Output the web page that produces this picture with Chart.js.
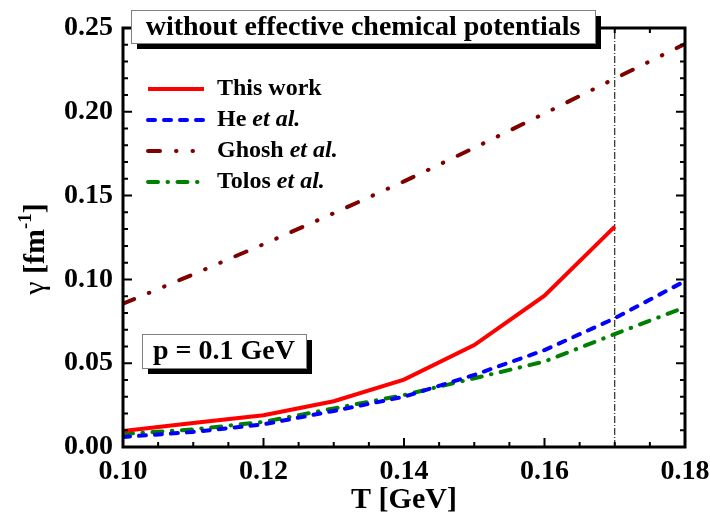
<!DOCTYPE html>
<html>
<head>
<meta charset="utf-8">
<script src="https://cdn.jsdelivr.net/npm/chart.js@4.4.0/dist/chart.umd.min.js"></script>
<style>
  body { margin: 0; background: #fff; }
  #wrap { width: 710px; height: 515px; }
</style>
</head>
<body>
<div id="wrap"><canvas id="gamma" width="710" height="515"></canvas></div>
<script>
// temperature grid [GeV] and damping rates gamma [fm^-1] at p = 0.1 GeV
const temps = [0.10, 0.11, 0.12, 0.13, 0.14, 0.15, 0.16, 0.17, 0.18];
const thisWork = [0.0096, 0.0143, 0.0190, 0.0273, 0.0402, 0.0608, 0.0903, 0.1315];
const heEtAl = [0.0060, 0.0090, 0.0135, 0.0215, 0.0300, 0.0430, 0.0578, 0.0768, 0.0990];
const ghoshEtAl = [0.0855, 0.1030, 0.1210, 0.1395, 0.1585, 0.1785, 0.1990, 0.2198, 0.2405];
const tolosEtAl = [0.0078, 0.0105, 0.0150, 0.0230, 0.0310, 0.0410, 0.0510, 0.0674, 0.0834];
const seriesLabels = ["This work", "He et al.", "Ghosh et al.", "Tolos et al."];
const tcMarker = 0.17; // vertical dash-dot line

const xMin = 0.10, xMax = 0.18, yMin = 0, yMax = 0.25;
const headline = "without effective chemical potentials";
const momentumNote = "p = 0.1 GeV";

const serif = "'Liberation Serif', 'Times New Roman', serif";

const toPoints = (vals) => vals.map((v, i) => ({ x: temps[i], y: v }));

const lineStyles = [
  { color: "#ff0000", dash: [], cap: "butt" },
  { color: "#0000ff", dash: [7, 9], cap: "round" },
  { color: "#800000", dash: [12, 16, 0.5, 16, 0.5, 16], cap: "round" },
  { color: "#008000", dash: [10, 9.5, 0.5, 9.5], cap: "round" },
];

const seriesData = [thisWork, heEtAl, ghoshEtAl, tolosEtAl];

const datasets = seriesData.map((vals, i) => ({
  label: seriesLabels[i],
  data: toPoints(vals),
  borderColor: lineStyles[i].color,
  borderDash: lineStyles[i].dash,
  borderCapStyle: lineStyles[i].cap,
  borderWidth: 4,
  pointRadius: 0,
  tension: 0,
  fill: false,
}));

datasets.push({
  label: "Tc",
  data: [{ x: tcMarker, y: yMin }, { x: tcMarker, y: yMax }],
  borderColor: "#000",
  borderDash: [7, 2, 1, 2],
  borderWidth: 1,
  pointRadius: 0,
  fill: false,
});

// frame with inward ticks, legend, text boxes, y axis title
const decorations = {
  id: "decorations",
  afterDatasetsDraw(chart) {
    const { ctx, chartArea: a, scales: { x, y } } = chart;
    ctx.save();
    ctx.strokeStyle = "#000";
    ctx.lineCap = "butt";
    ctx.lineWidth = 2;
    for (let i = 0; i <= 16; i++) {
      const px = x.getPixelForValue(xMin + i * 0.005);
      const len = i % 4 === 0 ? 9 : 5;
      ctx.beginPath();
      ctx.moveTo(px, a.bottom); ctx.lineTo(px, a.bottom - len);
      ctx.moveTo(px, a.top); ctx.lineTo(px, a.top + len);
      ctx.stroke();
    }
    for (let i = 0; i <= 25; i++) {
      const py = y.getPixelForValue(i * 0.01);
      const len = i % 5 === 0 ? 9 : 5;
      ctx.beginPath();
      ctx.moveTo(a.left, py); ctx.lineTo(a.left + len, py);
      ctx.moveTo(a.right, py); ctx.lineTo(a.right - len, py);
      ctx.stroke();
    }
    ctx.lineWidth = 3;
    ctx.strokeRect(a.left, a.top, a.right - a.left, a.bottom - a.top);
    ctx.restore();
  },
  afterDraw(chart) {
    const { ctx } = chart;
    ctx.save();

    // legend
    chart.data.datasets.slice(0, 4).forEach((ds, i) => {
      const ry = 89 + i * 31;
      ctx.strokeStyle = ds.borderColor;
      ctx.lineWidth = ds.borderWidth;
      ctx.lineCap = ds.borderCapStyle;
      ctx.setLineDash(ds.borderDash);
      ctx.beginPath();
      ctx.moveTo(148, ry); ctx.lineTo(204, ry);
      ctx.stroke();
      ctx.setLineDash([]);
      ctx.fillStyle = "#000";
      ctx.textBaseline = "middle";
      ctx.textAlign = "left";
      const parts = ds.label.split(" et al.");
      ctx.font = "bold 24px " + serif;
      ctx.fillText(parts[0], 217, ry);
      if (parts.length > 1) {
        const w = ctx.measureText(parts[0] + " ").width;
        ctx.font = "italic bold 24px " + serif;
        ctx.fillText("et al.", 217 + w, ry);
      }
    });

    // boxed notes with drop shadow
    const note = (text, bx, by, bw, bh) => {
      ctx.fillStyle = "#000";
      ctx.fillRect(bx + 6, by + 6, bw, bh);
      ctx.fillStyle = "#fff";
      ctx.fillRect(bx, by, bw, bh);
      ctx.strokeStyle = "#808080";
      ctx.lineWidth = 1;
      ctx.strokeRect(bx + 0.5, by + 0.5, bw, bh);
      ctx.fillStyle = "#000";
      ctx.font = "bold 28px " + serif;
      ctx.textAlign = "center";
      ctx.textBaseline = "middle";
      ctx.fillText(text, bx + bw / 2, by + bh / 2 + 1);
    };
    note(headline, 131, 10, 464, 33);
    note(momentumNote, 142, 334, 164, 34);

    // y axis title: gamma [fm^-1]
    ctx.translate(44, 249);
    ctx.rotate(-Math.PI / 2);
    ctx.textBaseline = "alphabetic";
    ctx.textAlign = "left";
    const pieces = [
      { t: "\u03b3", f: "30px " + serif, dy: 0 },
      { t: " [fm", f: "bold 30px " + serif, dy: 0 },
      { t: "-1", f: "bold 19px " + serif, dy: -13 },
      { t: "]", f: "bold 30px " + serif, dy: 0 },
    ];
    let total = 0;
    pieces.forEach(p => { ctx.font = p.f; p.w = ctx.measureText(p.t).width; total += p.w; });
    let cx = -total / 2;
    ctx.fillStyle = "#000";
    pieces.forEach(p => { ctx.font = p.f; ctx.fillText(p.t, cx, p.dy); cx += p.w; });
    ctx.restore();
  },
};

const tickFont = { family: serif, weight: "bold", size: 28 };

new Chart(document.getElementById("gamma"), {
  type: "line",
  data: { datasets },
  options: {
    responsive: false,
    devicePixelRatio: 1,
    animation: false,
    layout: { padding: { left: 0, top: 28, right: 25, bottom: 0 } },
    plugins: { legend: { display: false }, tooltip: { enabled: false } },
    scales: {
      x: {
        type: "linear",
        min: xMin,
        max: xMax,
        grid: { display: false, drawTicks: false },
        border: { display: false },
        ticks: {
          stepSize: 0.02,
          autoSkip: false,
          maxRotation: 0,
          padding: 8,
          color: "#000",
          font: tickFont,
          callback: (v) => v.toFixed(2),
        },
        title: {
          display: true,
          text: "T [GeV]",
          color: "#000",
          font: { family: serif, weight: "bold", size: 30 },
          padding: { top: 0, bottom: -3 },
        },
        afterFit: (s) => {
          s.height = 68;
          s.paddingLeft = 0;
          s.paddingRight = 0;
        },
      },
      y: {
        min: yMin,
        max: yMax,
        grid: { display: false, drawTicks: false },
        border: { display: false },
        ticks: {
          stepSize: 0.05,
          padding: 10,
          color: "#000",
          font: tickFont,
          callback: (v) => v.toFixed(2),
        },
        afterFit: (s) => {
          s.width = 123;
          s.paddingTop = 0;
          s.paddingBottom = 0;
        },
      },
    },
  },
  plugins: [decorations],
});
</script>
</body>
</html>
